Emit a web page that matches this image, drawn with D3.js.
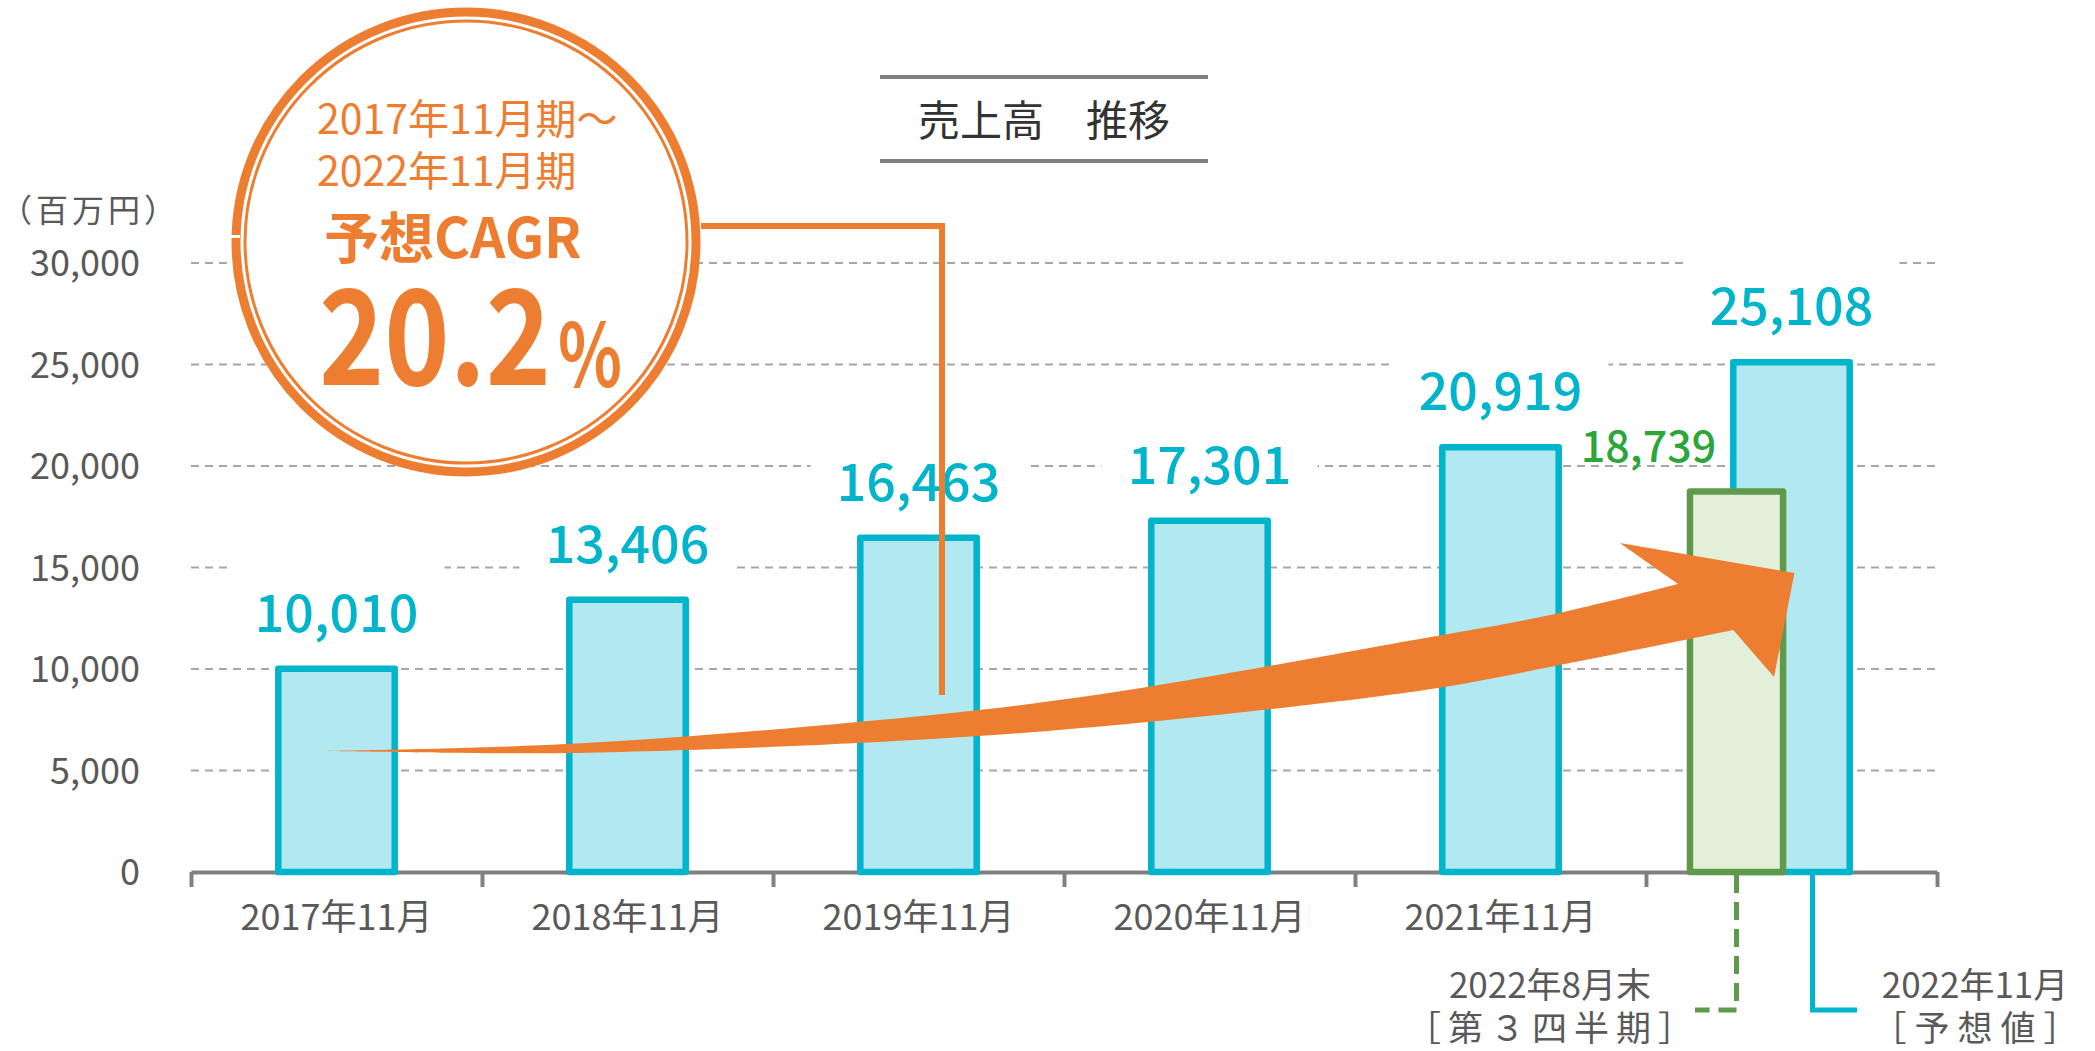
<!DOCTYPE html>
<html>
<head>
<meta charset="utf-8">
<script src="https://cdn.jsdelivr.net/npm/d3@7"></script>
<style>
  html, body { margin: 0; padding: 0; background: #fff; }
  text { font-family: "Noto Sans CJK JP", "Noto Sans", sans-serif; }
</style>
</head>
<body>
<div id="chart"></div>
<script>
// ── Data ────────────────────────────────────────────────────────────────
const categories  = ["2017年11月", "2018年11月", "2019年11月", "2020年11月", "2021年11月", "2022年11月"];
const axisLabels  = ["2017年11月", "2018年11月", "2019年11月", "2020年11月", "2021年11月", ""];
const sales       = [10010, 13406, 16463, 17301, 20919, 25108];
const q3Category  = "2022年11月";
const q3Value     = 18739;
const yTicks      = [0, 5000, 10000, 15000, 20000, 25000, 30000];

// growth arrow outline, as [band position, value]
const arrowUpper = [[0.43, 5960], [1.29, 6300], [2.29, 7390], [3.06, 8620], [4.24, 11530], [4.67, 12660], [5.11, 14190]];
const arrowHead  = [[4.91, 16210], [5.51, 14730], [5.44, 9610], [5.30, 11920]];
const arrowLower = [[5.30, 11920], [4.67, 10100], [4.24, 8970], [3.06, 7090], [2.29, 6350], [1.29, 5860], [0.86, 5880], [0.43, 5960]];

// ── Layout / styles ─────────────────────────────────────────────────────
const W = 2095, H = 1051;
const plot = { left: 191, right: 1937, top: 263, bottom: 872 };
const C = {
  cyan: "#00b4cc", cyanFill: "#b2e8f0",
  green: "#5f9a4b", greenFill: "#e2efd9", greenText: "#2ca53b",
  orange: "#ed7d31", grid: "#a6a6a6", axis: "#808080", text: "#595959", title: "#333333"
};

const svg = d3.select("#chart").append("svg")
  .attr("width", W).attr("height", H)
  .style("display", "block")
  .style("background", "#fff");

const x = d3.scaleBand().domain(categories)
  .range([plot.left, plot.right])
  .paddingInner(0.6).paddingOuter(0.3);
const xLin = d3.scaleLinear().domain([0, categories.length]).range([plot.left, plot.right]);
const y = d3.scaleLinear().domain([0, 30000]).range([plot.bottom, plot.top]);

// ── Gridlines ───────────────────────────────────────────────────────────
svg.append("g").selectAll("line")
  .data(yTicks.filter(d => d > 0))
  .join("line")
    .attr("x1", plot.left).attr("x2", plot.right)
    .attr("y1", d => y(d)).attr("y2", d => y(d))
    .attr("stroke", C.grid)
    .attr("stroke-width", 2)
    .attr("stroke-dasharray", "8 6");

// ── Value label boxes (white, hide gridlines like text boxes) ───────────
const labelOffset = 37;
svg.append("g").selectAll("rect")
  .data(sales)
  .join("rect")
    .attr("x", (d, i) => x(categories[i]) + x.bandwidth() / 2 - 108)
    .attr("y", d => y(d) - labelOffset - 70)
    .attr("width", 216)
    .attr("height", 84)
    .attr("fill", "#fff");

// ── Y axis ──────────────────────────────────────────────────────────────
const yAxis = svg.append("g")
  .attr("transform", "translate(140,0)")
  .call(d3.axisLeft(y).tickValues(yTicks).tickFormat(d3.format(",")).tickSize(0).tickPadding(0));
yAxis.select(".domain").remove();
yAxis.selectAll("text")
  .attr("fill", C.text)
  .attr("font-size", 36)
  .attr("dy", "0.36em")
  .style("font-family", "'Noto Sans CJK JP', sans-serif");

svg.append("text")
  .attr("x", 0).attr("y", 222)
  .attr("fill", C.text)
  .attr("font-size", 32)
  .attr("letter-spacing", 4)
  .text("（百万円）");

// ── X axis (ticks at band boundaries) ───────────────────────────────────
const xAxis = svg.append("g")
  .attr("transform", `translate(0,${plot.bottom})`)
  .call(d3.axisBottom(xLin).tickValues(d3.range(categories.length + 1)).tickFormat("").tickSize(15).tickSizeOuter(0));
xAxis.select(".domain").attr("stroke", C.axis).attr("stroke-width", 4);
xAxis.selectAll(".tick line").attr("stroke", C.axis).attr("stroke-width", 4);

svg.append("g").selectAll("text")
  .data(axisLabels)
  .join("text")
    .attr("x", (d, i) => x(categories[i]) + x.bandwidth() / 2)
    .attr("y", 930)
    .attr("text-anchor", "middle")
    .attr("fill", C.text)
    .attr("font-size", 36)
    .text(d => d);

// ── Bars ────────────────────────────────────────────────────────────────
svg.append("g").selectAll("rect")
  .data(sales)
  .join("rect")
    .attr("x", (d, i) => x(categories[i]))
    .attr("y", d => y(d))
    .attr("width", x.bandwidth())
    .attr("height", d => y(0) - y(d))
    .attr("fill", C.cyanFill)
    .attr("stroke", C.cyan)
    .attr("stroke-width", 6.5)
    .attr("stroke-linejoin", "round");

// Q3 actual bar, overlapping the forecast bar
const q3W = x.bandwidth() * 0.8;
const q3X = x(q3Category) + x.bandwidth() / 2 - 55 - q3W / 2;
svg.append("rect")
  .attr("x", q3X)
  .attr("y", y(q3Value))
  .attr("width", q3W)
  .attr("height", y(0) - y(q3Value))
  .attr("fill", C.greenFill)
  .attr("stroke", C.green)
  .attr("stroke-width", 6.5)
  .attr("stroke-linejoin", "round");

// ── Value labels ────────────────────────────────────────────────────────
svg.append("g").selectAll("text")
  .data(sales)
  .join("text")
    .attr("x", (d, i) => x(categories[i]) + x.bandwidth() / 2)
    .attr("y", d => y(d) - labelOffset)
    .attr("text-anchor", "middle")
    .attr("fill", C.cyan)
    .attr("font-size", 52)
    .attr("font-weight", 500)
    .text(d => d3.format(",")(d));

svg.append("text")
  .attr("x", q3X + q3W / 2 - 88)
  .attr("y", y(q3Value) - 30)
  .attr("text-anchor", "middle")
  .attr("fill", C.greenText)
  .attr("font-size", 43)
  .attr("font-weight", 500)
  .text(d3.format(",")(q3Value));

// ── Growth arrow ────────────────────────────────────────────────────────
const pt = d => [xLin(d[0]), y(d[1])];
const smooth = d3.line().curve(d3.curveCatmullRom.alpha(0.5));
const upperPath = smooth(arrowUpper.map(pt));
const headPath  = arrowHead.map(pt).map(p => `L${p[0]},${p[1]}`).join("");
const lowerPath = smooth(arrowLower.map(pt)).replace(/^M/, "L");
svg.append("path")
  .attr("d", upperPath + headPath + lowerPath + "Z")
  .attr("fill", C.orange);

// ── CAGR callout ────────────────────────────────────────────────────────
const cc = { x: 466, y: 242 };
const callout = svg.append("g").attr("transform", `translate(${cc.x},${cc.y})`);
callout.append("circle").attr("r", 234).attr("fill", "#fff");
callout.append("circle").attr("r", 230).attr("fill", "none").attr("stroke", C.orange).attr("stroke-width", 9);
callout.append("circle").attr("r", 221).attr("fill", "none").attr("stroke", C.orange).attr("stroke-width", 3);
// small break in the ring on the left
callout.append("rect").attr("x", -242).attr("y", -7).attr("width", 16).attr("height", 3).attr("fill", "#fff");

callout.append("text").attr("x", -149).attr("y", -108)
  .attr("fill", C.orange).attr("font-size", 41).text("2017年11月期～");
callout.append("text").attr("x", -149).attr("y", -56)
  .attr("fill", C.orange).attr("font-size", 41).text("2022年11月期");
callout.append("text").attr("x", -142).attr("y", 16)
  .attr("fill", C.orange).attr("font-size", 55).attr("font-weight", 700).text("予想CAGR");
callout.append("text").attr("x", -147).attr("y", 143)
  .attr("fill", C.orange).attr("font-size", 132).attr("font-weight", 700)
  .attr("textLength", 232).attr("lengthAdjust", "spacingAndGlyphs")
  .text("20.2");
callout.append("text").attr("x", 92).attr("y", 145)
  .attr("fill", C.orange).attr("font-size", 88).attr("font-weight", 700)
  .attr("textLength", 64).attr("lengthAdjust", "spacingAndGlyphs")
  .text("%");

// connector from callout down to the chart
svg.append("path")
  .attr("d", `M${cc.x + 235},226 H942 V695`)
  .attr("fill", "none")
  .attr("stroke", C.orange)
  .attr("stroke-width", 6);

// ── Title ───────────────────────────────────────────────────────────────
svg.append("line").attr("x1", 880).attr("x2", 1208).attr("y1", 77).attr("y2", 77)
  .attr("stroke", C.axis).attr("stroke-width", 4);
svg.append("line").attr("x1", 880).attr("x2", 1208).attr("y1", 161).attr("y2", 161)
  .attr("stroke", C.axis).attr("stroke-width", 4);
svg.append("text")
  .attr("x", 1044).attr("y", 136)
  .attr("text-anchor", "middle")
  .attr("fill", C.title)
  .attr("font-size", 42)
  .text("売上高　推移");

// ── Bottom callouts for the 2022 bars ───────────────────────────────────
const q3Cx = q3X + q3W / 2;
svg.append("path")
  .attr("d", `M${q3Cx},${plot.bottom + 3} V1010 H1695`)
  .attr("fill", "none")
  .attr("stroke", C.green)
  .attr("stroke-width", 5)
  .attr("stroke-dasharray", "18 9");
svg.append("path")
  .attr("d", `M${x(q3Category) + x.bandwidth() / 2 + 21},${plot.bottom - 2} V1010 H1857`)
  .attr("fill", "none")
  .attr("stroke", C.cyan)
  .attr("stroke-width", 5);

const noteQ3 = svg.append("g").attr("fill", C.text).attr("font-size", 35).attr("text-anchor", "middle");
noteQ3.append("text").attr("x", 1550).attr("y", 998).text("2022年8月末");
noteQ3.append("text").attr("x", 1553).attr("y", 1041).attr("letter-spacing", 7).text("［第３四半期］");

const noteFc = svg.append("g").attr("fill", C.text).attr("font-size", 35).attr("text-anchor", "middle");
noteFc.append("text").attr("x", 1975).attr("y", 998).text("2022年11月");
noteFc.append("text").attr("x", 1979).attr("y", 1041).attr("letter-spacing", 8).text("［予想値］");
</script>
</body>
</html>
